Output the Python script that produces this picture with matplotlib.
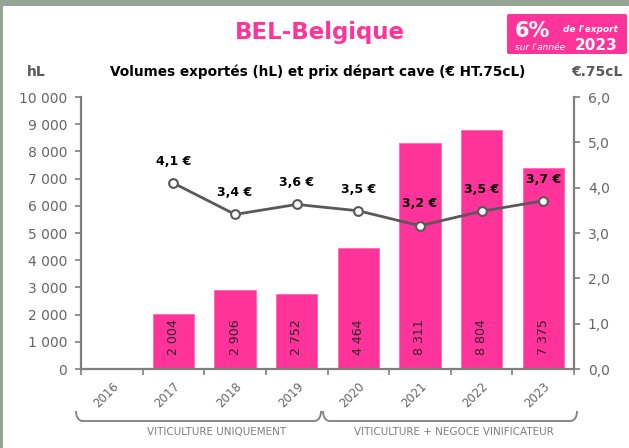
import matplotlib
matplotlib.use("Agg")
import matplotlib.pyplot as plt
from matplotlib.patches import Rectangle, PathPatch, FancyBboxPatch
from matplotlib.path import Path

# ---- data ----
years = ["2016", "2017", "2018", "2019", "2020", "2021", "2022", "2023"]
volumes = [0, 2004, 2906, 2752, 4464, 8311, 8804, 7375]
price_years = ["2017", "2018", "2019", "2020", "2021", "2022", "2023"]
prices = [4.10, 3.41, 3.63, 3.49, 3.16, 3.48, 3.71]
left_ticks = [0, 1000, 2000, 3000, 4000, 5000, 6000, 7000, 8000, 9000, 10000]
right_ticks = [0, 1, 2, 3, 4, 5, 6]
groups = ["VITICULTURE UNIQUEMENT", "VITICULTURE + NEGOCE VINIFICATEUR"]

PINK = "#FF3399"
GREY = "#7f7f7f"
DARK = "#595959"
W, H = 629, 448

plt.rcParams['font.family'] = ['DejaVu Sans']

fig = plt.figure(figsize=(W / 100, H / 100), dpi=100)
fig.patch.set_facecolor("#95A595")
fig.patches.append(Rectangle((3 / W, 0), 1, 1 - 6 / H, transform=fig.transFigure,
                             facecolor="white", edgecolor="none", zorder=-10))

def fx(x):
    return x / W

def fy(y):
    return 1 - y / H

ax = fig.add_axes([fx(81), fy(369), fx(574) - fx(81), fy(97) - fy(369)])
ax.set_facecolor("none")
xs = list(range(len(years)))
ax.bar(xs, volumes, width=0.67, color=PINK, edgecolor="#ff66b3", linewidth=0.6, zorder=2)
ax.set_xlim(-0.5, len(years) - 0.5)
ax.set_ylim(0, 10000)
ax.set_yticks(left_ticks)
ax.set_yticklabels([f"{v:,}".replace(",", " ") for v in left_ticks])
ax.set_xticks([i - 0.5 for i in range(len(years) + 1)])
ax.set_xticklabels([])
ax.set_xticks(xs, minor=True)
ax.set_xticklabels(years, minor=True, rotation=45, ha="right", va="top",
                   rotation_mode="anchor", color="#666666", fontsize=8.5)
ax.tick_params(axis="x", which="minor", length=0, pad=8)
ax.tick_params(axis="x", which="major", length=4, width=1.2, color=GREY)
ax.tick_params(axis="y", length=4, width=1.2, color=GREY, labelcolor="#666666",
               labelsize=10, pad=6)
for s in ["top", "right"]:
    ax.spines[s].set_visible(False)
for s in ["left", "bottom"]:
    ax.spines[s].set_color(GREY)
    ax.spines[s].set_linewidth(1.6)

for x, v in zip(xs, volumes):
    if v > 0:
        ax.annotate(f"{v:,}".replace(",", " "), (x, 0), xytext=(0, 10),
                    textcoords="offset points", rotation=90, ha="center",
                    va="bottom", fontsize=9, color="#262626", zorder=3)

ax2 = ax.twinx()
ax2.set_ylim(0, 6)
ax2.set_yticks(right_ticks)
ax2.set_yticklabels([f"{v:.1f}".replace(".", ",") for v in right_ticks])
ax2.tick_params(axis="y", length=4, width=1.2, color=GREY, labelcolor="#666666",
                labelsize=10, pad=6)
for s in ["top", "left", "bottom"]:
    ax2.spines[s].set_visible(False)
ax2.spines["right"].set_color(GREY)
ax2.spines["right"].set_linewidth(1.6)

px = [years.index(y) for y in price_years]
ax2.plot(px, prices, color=DARK, lw=2, marker="o", markersize=6.3,
         markerfacecolor="white", markeredgecolor=DARK, markeredgewidth=1.5, zorder=4)
for x, p in zip(px, prices):
    ax2.annotate(f"{p:.1f} €".replace(".", ","), (x, p), xytext=(0, 11),
                 textcoords="offset points", ha="center", va="bottom",
                 fontsize=9, fontweight="bold", color="black")

# ---- overlay in pixel coordinates ----
ov = fig.add_axes([0, 0, 1, 1], zorder=10)
ov.set_xlim(0, W)
ov.set_ylim(H, 0)
ov.axis("off")
ov.patch.set_alpha(0)

ov.text(320, 33, "BEL-Belgique", ha="center", va="center", fontsize=16.5,
        fontweight="bold", color=PINK)
ov.text(318, 72, "Volumes exportés (hL) et prix départ cave (€ HT.75cL)",
        ha="center", va="center", fontsize=9.8, fontweight="bold", color="black")
ov.text(36, 72, "hL", ha="center", va="center", fontsize=10, fontweight="bold", color=DARK)
ov.text(597, 72, "€.75cL", ha="center", va="center", fontsize=10, fontweight="bold", color=DARK)

ov.add_patch(FancyBboxPatch((507, 14), 120, 40, boxstyle="round,pad=0,rounding_size=2",
                            facecolor=PINK, edgecolor="none"))
ov.text(532, 31, "6%", ha="center", va="center", fontsize=15, fontweight="bold", color="white")
ov.text(618, 30, "de l'export", ha="right", va="center", fontsize=6.5,
        fontweight="bold", style="italic", color="white")
ov.text(515, 47, "sur l'année", ha="left", va="center", fontsize=6.5,
        style="italic", color="white")
ov.text(618, 45, "2023", ha="right", va="center", fontsize=11, fontweight="bold", color="white")

def bracket(x0, x1, ytop, ybot, r=6):
    verts = [(x0, ytop), (x0, ybot - r * 0.2), (x0 + r, ybot),
             (x1 - r, ybot), (x1, ybot - r * 0.2), (x1, ytop)]
    codes = [Path.MOVETO, Path.CURVE3, Path.CURVE3, Path.LINETO, Path.CURVE3, Path.CURVE3]
    return PathPatch(Path(verts, codes), facecolor="none", edgecolor=GREY, lw=1.3)

ov.add_patch(bracket(76, 321, 411, 421))
ov.add_patch(bracket(323, 577, 411, 421))
ov.text(217, 432, groups[0], ha="center", va="center", fontsize=7.5, color=GREY)
ov.text(454, 432, groups[1], ha="center", va="center", fontsize=7.5, color=GREY)

fig.savefig("out.png", dpi=100, facecolor=fig.get_facecolor())
